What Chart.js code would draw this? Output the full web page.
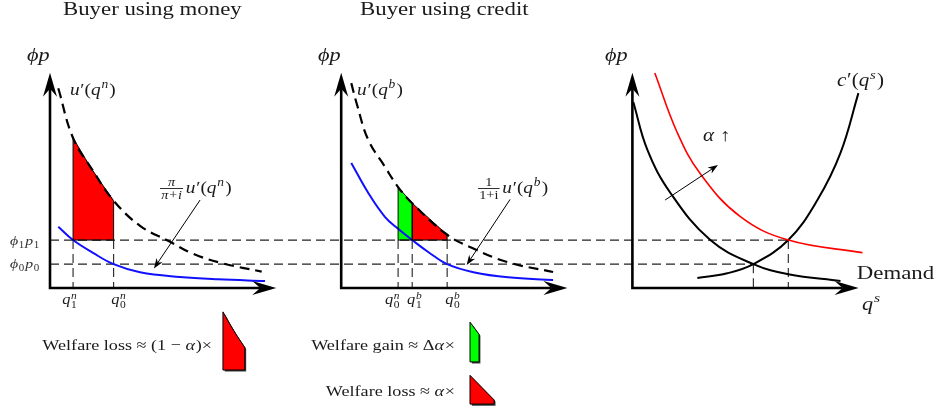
<!DOCTYPE html>
<html>
<head>
<meta charset="utf-8">
<script src="https://cdn.jsdelivr.net/npm/chart.js@4.4.1/dist/chart.umd.min.js"></script>
<style>
  html, body { margin: 0; padding: 0; background: #fff; }
  canvas { display: block; }
</style>
</head>
<body>
<canvas id="c" width="941" height="410"></canvas>
<script>
// Horizontal offset between the three panels, in q units
const STEP = 13;
// Real price levels phi*p
const P1 = 2.25;
const P0 = 1.12;
const AXIS_TIP = 10.1;

// Buyer using money: marginal utility u'(q^n) and the discounted curve
const moneyQ  = [0.37, 1.03, 1.92, 2.84, 4.02, 5.27, 6.40, 7.74, 9.45];
const moneyU  = [9.38, 7.04, 5.50, 4.10, 2.92, 2.22, 1.60, 1.15, 0.77];
const moneyVQ = [0.37, 1.03, 1.92, 2.84, 4.02, 5.80, 7.50, 9.60];
const moneyV  = [2.88, 2.25, 1.65, 1.12, 0.74, 0.52, 0.41, 0.33];
const moneyQ1 = 1.03, moneyQ0 = 2.84;

// Buyer using credit: u'(q^b) and u'(q^b)/(1+i)
const creditQ  = [0.45, 0.71, 1.21, 1.96, 2.54, 3.17, 4.73, 5.85, 7.41, 9.46];
const creditU  = [9.62, 8.59, 6.95, 5.68, 4.74, 3.98, 2.50, 1.88, 1.22, 0.75];
const creditVQ = [0.45, 1.21, 1.96, 2.54, 3.17, 3.90, 4.73, 5.90, 7.45, 9.46];
const creditV  = [5.87, 4.46, 3.33, 2.78, 2.25, 1.68, 1.12, 0.74, 0.50, 0.38];
const creditQn = 2.54, creditQ1 = 3.17, creditQ0 = 4.73;

// Seller market: demand before / after the rise in alpha, marginal cost
const demandQ   = [0.04, 0.67, 1.70, 3.48, 5.40, 6.96, 9.29];
const demandP   = [8.73, 6.48, 4.46, 2.25, 1.12, 0.65, 0.33];
const demandUpQ = [1.00, 2.00, 3.04, 4.82, 6.96, 10.27];
const demandUpP = [10.09, 7.30, 5.35, 3.35, 2.25, 1.66];
const costQ     = [2.90, 4.23, 5.40, 6.96, 8.26, 9.29, 10.09];
const costP     = [0.47, 0.69, 1.12, 2.25, 4.13, 6.34, 9.15];
const qsLow = 5.40, qsHigh = 6.96;

// Annotation arrows [panel, q from, p from, q to, p to]
const arrows = [
  [0, 6.70, 4.13, 4.64, 0.92],
  [1, 7.54, 4.16, 5.60, 1.08],
  [2, 1.46, 4.13, 3.82, 5.77]
];

const SMOOTH = 0.4;

const at = (k, qs, ps) => qs.map((q, i) => ({x: k * STEP + q, y: ps[i]}));
const between = (k, qs, ps, a, b) =>
  at(k, qs, ps).filter(pt => pt.x >= k * STEP + a - 1e-9 && pt.x <= k * STEP + b + 1e-9);

// scaled copy of a shaded region, placed with its bottom-left corner at (q, p)
function glyph(src, base, k, q, p, sx, sy, dx, dy) {
  const x0 = src[0].x;
  return src.map(pt => ({x: k * STEP + q + (pt.x - x0) * sx + (dx || 0), y: p + (pt.y - base) * sy + (dy || 0)}));
}

const moneyArea  = between(0, moneyQ, moneyU, moneyQ1, moneyQ0);
const creditGain = between(1, creditQ, creditU, creditQn, creditQ1);
const creditLoss = between(1, creditQ, creditU, creditQ1, creditQ0);

const glyphs = [
  {src: moneyArea,  k: 0, q: 7.72, p: -3.85, sx: 0.54, sy: 0.57, color: '#ff0000'},
  {src: creditGain, k: 1, q: 5.75, p: -3.47, sx: 0.64, sy: 0.75, color: '#00ff00'},
  {src: creditLoss, k: 1, q: 5.75, p: -5.45, sx: 0.69, sy: 0.78, color: '#ff0000'}
];

const curve = (data, color, width, dash) => ({
  data, borderColor: color, borderWidth: width, borderDash: dash || [],
  fill: false, tension: SMOOTH, order: 1
});
const guide = data => ({data, borderColor: '#222', borderWidth: 1.1, borderDash: [9, 5], fill: false, order: 5});
const region = (data, base, color, order, edged) => ({
  data, edgeBase: edged ? base : undefined, backgroundColor: color,
  borderColor: '#000', borderWidth: edged ? 1 : 0,
  fill: {value: base}, tension: SMOOTH, order
});

const datasets = [
  curve(at(0, moneyQ, moneyU), '#000', 2.2, [10, 6]),
  curve(at(0, moneyVQ, moneyV), '#1010ff', 2),
  curve(at(1, creditQ, creditU), '#000', 2.2, [10, 6]),
  curve(at(1, creditVQ, creditV), '#1010ff', 2),
  curve(at(2, demandQ, demandP), '#000', 2),
  curve(at(2, demandUpQ, demandUpP), '#ff0000', 1.6),
  curve(at(2, costQ, costP), '#000', 2),
  guide([{x: 0, y: P1}, {x: 2 * STEP + qsHigh, y: P1}]),
  guide([{x: 0, y: P0}, {x: 2 * STEP + qsLow, y: P0}])
];
[[0, moneyQ1, P1], [0, moneyQ0, P1], [1, creditQn, P1], [1, creditQ1, P1], [1, creditQ0, P1],
 [2, qsLow, P0], [2, qsHigh, P1]].forEach(([k, q, p]) => {
  datasets.push(guide([{x: k * STEP + q, y: p}, {x: k * STEP + q, y: 0}]));
});
datasets.push(region(moneyArea, P1, '#ff0000', 8, true));
datasets.push(region(creditGain, P1, '#00ff00', 8, true));
datasets.push(region(creditLoss, P1, '#ff0000', 8, true));
glyphs.forEach(g => {
  const dx = 1.6 / 22.4, dy = -1.6 / 21.3;
  datasets.push(region(glyph(g.src, P1, g.k, g.q, g.p, g.sx, g.sy, dx, dy), g.p + dy, '#3a3a3a', 9, false));
  datasets.push(region(glyph(g.src, P1, g.k, g.q, g.p, g.sx, g.sy), g.p, g.color, 8, true));
});

// ---- text ----
const FAMILY = '"Liberation Serif", "DejaVu Serif", serif';
const STRETCH = 1.17;
const fontOf = (size, italic) => (italic ? 'italic ' : '') + size.toFixed(1) + 'px ' + FAMILY;

function measureParts(ctx, parts, size) {
  let x = 0;
  const ops = [];
  for (const part of parts) {
    if (part.frac) {
      const fs = size * 0.74;
      ctx.font = fontOf(fs, part.i);
      const wn = ctx.measureText(part.frac[0]).width;
      const wd = ctx.measureText(part.frac[1]).width;
      const w = Math.max(wn, wd) + 2;
      ops.push({kind: 'frac', x, w, wn, wd, fs, part});
      x += w + size * 0.14;
    } else if (part.sup !== undefined || part.sub !== undefined) {
      const fs = size * 0.7;
      let w = 0;
      if (part.sup) { ctx.font = fontOf(fs, true); w = Math.max(w, ctx.measureText(part.sup).width); }
      if (part.sub) { ctx.font = fontOf(fs, false); w = Math.max(w, ctx.measureText(part.sub).width); }
      ops.push({kind: 'script', x, fs, part});
      x += w + size * 0.06;
    } else {
      ctx.font = fontOf(size, part.i);
      const w = ctx.measureText(part.t).width;
      ops.push({kind: 'text', x, part});
      x += w + (part.i ? size * 0.04 : 0);
    }
  }
  return {ops, width: x};
}

function drawParts(ctx, parts, x, y, size, align, color) {
  const {ops, width} = measureParts(ctx, parts, size);
  ctx.save();
  ctx.translate(x, y);
  ctx.scale(STRETCH, 1);
  ctx.translate(align === 'right' ? -width : align === 'center' ? -width / 2 : 0, 0);
  ctx.fillStyle = color;
  ctx.strokeStyle = color;
  ctx.textBaseline = 'alphabetic';
  ctx.textAlign = 'left';
  for (const op of ops) {
    const p = op.part;
    if (op.kind === 'text') {
      ctx.font = fontOf(size, p.i);
      ctx.fillText(p.t, op.x, 0);
    } else if (op.kind === 'script') {
      const both = p.sup && p.sub;
      if (p.sup) { ctx.font = fontOf(op.fs, true); ctx.fillText(p.sup, op.x, -size * (both ? 0.36 : 0.4)); }
      if (p.sub) { ctx.font = fontOf(op.fs, false); ctx.fillText(p.sub, op.x, size * (both ? 0.3 : 0.22)); }
    } else {
      const axis = -size * 0.27;
      ctx.font = fontOf(op.fs, p.i);
      ctx.fillText(p.frac[0], op.x + (op.w - op.wn) / 2, axis - 2.5);
      ctx.fillText(p.frac[1], op.x + (op.w - op.wd) / 2, axis + op.fs * 0.72 + 1.5);
      ctx.lineWidth = 0.9;
      ctx.beginPath();
      ctx.moveTo(op.x, axis);
      ctx.lineTo(op.x + op.w, axis);
      ctx.stroke();
    }
  }
  ctx.restore();
}

const uPrime = s => [{t: 'u', i: 1}, {t: '′('}, {t: 'q', i: 1}, {sup: s}, {t: ')'}];
const qLabel = (sup, sub) => [{t: 'q', i: 1}, {sup, sub}];
const phiP = n => [{t: 'ϕ', i: 1}, {sub: n}, {t: 'p', i: 1}, {sub: n}];

const texts = [
  {k: 0, q: 0.58, p: 12.82, size: 19.5, parts: [{t: 'Buyer using money'}]},
  {k: 1, q: 0.84, p: 12.82, size: 19.5, parts: [{t: 'Buyer using credit'}]},
  {k: 0, q: -1.03, p: 10.66, size: 19, parts: [{t: 'ϕp', i: 1}]},
  {k: 1, q: -1.04, p: 10.66, size: 19, parts: [{t: 'ϕp', i: 1}]},
  {k: 2, q: -1.22, p: 10.66, size: 19, parts: [{t: 'ϕp', i: 1}]},
  {k: 0, q: 0.89, p: 9.06, size: 16.5, parts: uPrime('n')},
  {k: 1, q: 0.71, p: 9.06, size: 16.5, parts: uPrime('b')},
  {k: 0, q: 4.91, p: 4.46, size: 16.5, parts: [{frac: ['π', 'π+i'], i: 1}].concat(uPrime('n'))},
  {k: 1, q: 6.11, p: 4.46, size: 16.5, parts: [{frac: ['1', '1+i']}].concat(uPrime('b'))},
  {k: 0, q: -1.79, p: 2.02, size: 13.5, parts: phiP('1'), color: '#333'},
  {k: 0, q: -1.79, p: 0.94, size: 13.5, parts: phiP('0'), color: '#333'},
  {k: 0, q: 0.89, p: -0.75, size: 14, align: 'center', parts: qLabel('n', '1')},
  {k: 0, q: 3.08, p: -0.75, size: 14, align: 'center', parts: qLabel('n', '0')},
  {k: 1, q: 2.30, p: -0.75, size: 14, align: 'center', parts: qLabel('n', '0')},
  {k: 1, q: 3.29, p: -0.75, size: 14, align: 'center', parts: qLabel('b', '1')},
  {k: 1, q: 4.99, p: -0.75, size: 14, align: 'center', parts: qLabel('b', '0')},
  {k: 2, q: 3.15, p: 6.90, size: 18, parts: [{t: 'α', i: 1}, {t: ' ↑'}]},
  {k: 2, q: 9.13, p: 9.48, size: 18, parts: [{t: 'c', i: 1}, {t: '′('}, {t: 'q', i: 1}, {sup: 's'}, {t: ')'}]},
  {k: 2, q: 10.02, p: 0.42, size: 19.5, parts: [{t: 'Demand'}]},
  {k: 2, q: 10.25, p: -1.03, size: 19, parts: [{t: 'q', i: 1}, {sup: 's'}]},
  {k: 0, q: 7.23, p: -2.91, size: 15.5, align: 'right', parts: [{t: 'Welfare loss ≈ (1 − '}, {t: 'α', i: 1}, {t: ')×'}]},
  {k: 1, q: 5.08, p: -2.91, size: 15.5, align: 'right', parts: [{t: 'Welfare gain ≈ Δ'}, {t: 'α', i: 1}, {t: '×'}]},
  {k: 1, q: 5.08, p: -5.07, size: 15.5, align: 'right', parts: [{t: 'Welfare loss ≈ '}, {t: 'α', i: 1}, {t: '×'}]}
];

function arrowHead(ctx, x, y, dx, dy, len, half, inner) {
  const px = -dy, py = dx;
  ctx.beginPath();
  ctx.moveTo(x, y);
  ctx.lineTo(x - dx * len + px * half, y - dy * len + py * half);
  ctx.lineTo(x - dx * inner, y - dy * inner);
  ctx.lineTo(x - dx * len - px * half, y - dy * len - py * half);
  ctx.closePath();
  ctx.fill();
}

const diagramPlugin = {
  id: 'diagram',
  afterDatasetsDraw(chart) {
    const ctx = chart.ctx, xs = chart.scales.x, ys = chart.scales.y;
    ctx.save();
    // outlines of the shaded regions
    chart.data.datasets.forEach((ds, i) => {
      if (ds.edgeBase === undefined) return;
      const pts = chart.getDatasetMeta(i).data;
      const a = pts[0], b = pts[pts.length - 1];
      const yb = ys.getPixelForValue(ds.edgeBase);
      ctx.strokeStyle = '#000';
      ctx.lineWidth = 1;
      ctx.setLineDash([]);
      ctx.beginPath();
      ctx.moveTo(a.x, a.y);
      ctx.lineTo(a.x, yb);
      ctx.lineTo(b.x, yb);
      ctx.lineTo(b.x, b.y);
      ctx.stroke();
    });
    // axes
    ctx.fillStyle = '#000';
    ctx.strokeStyle = '#000';
    for (let k = 0; k < 3; k++) {
      const ox = xs.getPixelForValue(k * STEP), oy = ys.getPixelForValue(0);
      const tx = xs.getPixelForValue(k * STEP + AXIS_TIP), ty = ys.getPixelForValue(AXIS_TIP);
      ctx.lineWidth = 2.6;
      ctx.beginPath();
      ctx.moveTo(ox, oy + 1.3);
      ctx.lineTo(ox, ty + 16);
      ctx.moveTo(ox - 1.3, oy);
      ctx.lineTo(tx - 16, oy);
      ctx.stroke();
      arrowHead(ctx, ox, ty, 0, -1, 24, 7, 16);
      arrowHead(ctx, tx, oy, 1, 0, 24, 7, 16);
    }
    // annotation arrows
    arrows.forEach(([k, q0, p0, q1, p1]) => {
      const x0 = xs.getPixelForValue(k * STEP + q0), y0 = ys.getPixelForValue(p0);
      const x1 = xs.getPixelForValue(k * STEP + q1), y1 = ys.getPixelForValue(p1);
      const len = Math.hypot(x1 - x0, y1 - y0), dx = (x1 - x0) / len, dy = (y1 - y0) / len;
      ctx.lineWidth = 1;
      ctx.beginPath();
      ctx.moveTo(x0, y0);
      ctx.lineTo(x1 - dx * 6, y1 - dy * 6);
      ctx.stroke();
      arrowHead(ctx, x1, y1, dx, dy, 10, 3.6, 7);
    });
    ctx.restore();
  },
  afterDraw(chart) {
    const ctx = chart.ctx, xs = chart.scales.x, ys = chart.scales.y;
    texts.forEach(t => {
      drawParts(ctx, t.parts, xs.getPixelForValue(t.k * STEP + t.q), ys.getPixelForValue(t.p),
        t.size, t.align || 'left', t.color || '#1a1a1a');
    });
  }
};

const chart = new Chart(document.getElementById('c'), {
  type: 'line',
  data: {datasets},
  options: {
    responsive: false,
    animation: false,
    devicePixelRatio: 1,
    events: [],
    layout: {padding: 0, autoPadding: false},
    elements: {point: {radius: 0}},
    scales: {
      x: {type: 'linear', display: false, bounds: 'data', min: -50 / 22.4, max: -50 / 22.4 + 941 / 22.4},
      y: {type: 'linear', display: false, bounds: 'data', min: -122 / 21.3, max: 288 / 21.3}
    },
    plugins: {legend: {display: false}, tooltip: {enabled: false}}
  },
  plugins: [diagramPlugin]
});
</script>
</body>
</html>
